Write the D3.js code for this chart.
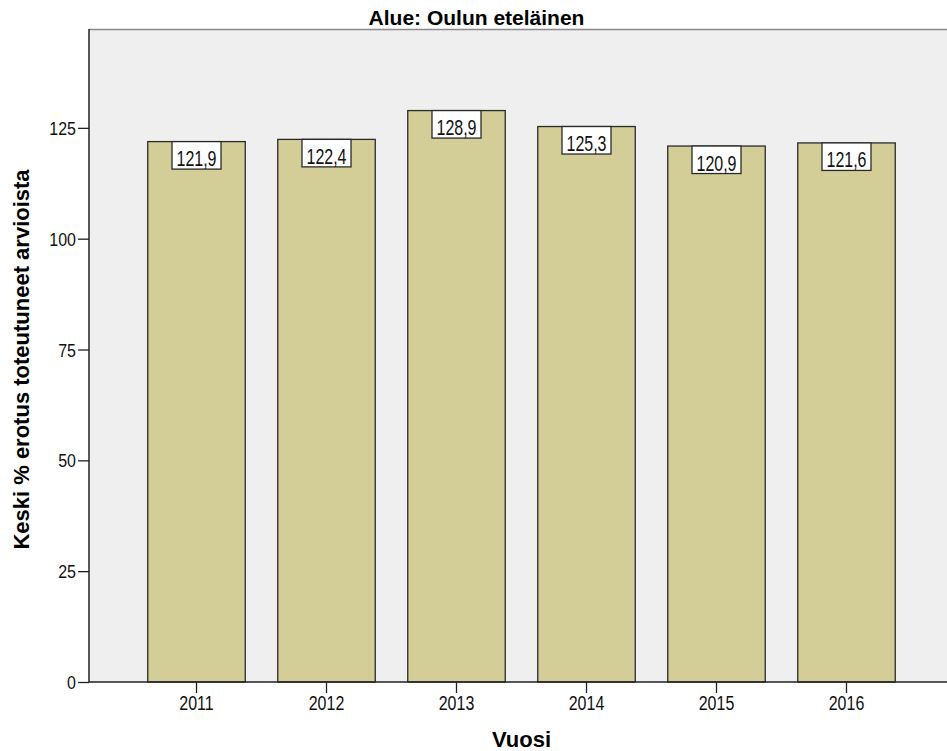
<!DOCTYPE html>
<html>
<head>
<meta charset="utf-8">
<script src="https://cdn.jsdelivr.net/npm/d3@7"></script>
<style>
  html, body { margin: 0; padding: 0; background: #fff; }
  svg { display: block; font-family: Arial, "Liberation Sans", sans-serif; }
</style>
</head>
<body>
<svg id="chart" width="947" height="751"></svg>
<script>
// Mean % difference of realised vs. estimated values, by year
const years = ["2011", "2012", "2013", "2014", "2015", "2016"];
const means = [121.9, 122.4, 128.9, 125.3, 120.9, 121.6];
const yTicks = [0, 25, 50, 75, 100, 125];

const chartTitle = "Alue: Oulun eteläinen";
const xTitle = "Vuosi";
const yTitle = "Keski % erotus toteutuneet arvioista";

const W = 947, H = 751;
const plot = { left: 89, top: 29, right: 954, bottom: 682 };

const svg = d3.select("#chart");

const x = d3.scaleBand()
  .domain(years)
  .range([plot.left, plot.right])
  .paddingInner(0.25)
  .paddingOuter(0.452);

const y = d3.scaleLinear()
  .domain([0, 147.3])
  .range([plot.bottom, plot.top]);

const fmt = v => d3.format(".1f")(v).replace(".", ",");

// plot background
svg.append("rect")
  .attr("x", plot.left).attr("y", plot.top)
  .attr("width", plot.right - plot.left)
  .attr("height", plot.bottom - plot.top)
  .attr("fill", "#efefef");

// top frame line
svg.append("line")
  .attr("x1", plot.left).attr("x2", W)
  .attr("y1", plot.top + 0.5).attr("y2", plot.top + 0.5)
  .attr("stroke", "#8a8a8a").attr("stroke-width", 1.5);

// bars
svg.append("g").selectAll("rect")
  .data(years)
  .join("rect")
  .attr("x", (d) => x(d))
  .attr("y", (d, i) => y(means[i]))
  .attr("width", x.bandwidth())
  .attr("height", (d, i) => y(0) - y(means[i]))
  .attr("fill", "#d3ce97")
  .attr("stroke", "#2a2a2a")
  .attr("stroke-width", 1.3);

// y axis
const yAxis = svg.append("g")
  .attr("transform", `translate(${plot.left},0)`)
  .call(d3.axisLeft(y).tickValues(yTicks).tickSize(11).tickSizeOuter(0).tickPadding(2));
yAxis.select(".domain").attr("stroke", "#222").attr("stroke-width", 1.5)
  .attr("d", `M0,${plot.top}V${plot.bottom}`);
yAxis.selectAll(".tick line").attr("stroke", "#222").attr("stroke-width", 1.3);
yAxis.selectAll(".tick text")
  .attr("font-size", 16).attr("fill", "#111").attr("dy", null)
  .attr("font-family", "Arial, 'Liberation Sans', sans-serif")
  .attr("transform", "translate(0,6.5) scale(1,1.18)");

// x axis
const xAxis = svg.append("g")
  .attr("transform", `translate(0,${plot.bottom})`)
  .call(d3.axisBottom(x).tickSize(11).tickSizeOuter(0).tickPadding(6));
xAxis.select(".domain").attr("stroke", "#222").attr("stroke-width", 1.5)
  .attr("d", `M${plot.left},0H${W}`);
xAxis.selectAll(".tick line").attr("stroke", "#222").attr("stroke-width", 1.3);
xAxis.selectAll(".tick text")
  .attr("font-size", 16).attr("fill", "#111").attr("y", 0).attr("dy", null)
  .attr("font-family", "Arial, 'Liberation Sans', sans-serif")
  .attr("transform", "translate(0,28) scale(1,1.22)");

// value labels
const lab = svg.append("g").selectAll("g")
  .data(years)
  .join("g")
  .attr("transform", (d, i) => `translate(${x(d) + x.bandwidth() / 2},${y(means[i])})`);
lab.append("rect")
  .attr("x", -24.5).attr("y", 0)
  .attr("width", 49).attr("height", 27.5)
  .attr("fill", "#fff").attr("stroke", "#2a2a2a").attr("stroke-width", 1.3);
lab.append("text")
  .attr("text-anchor", "middle")
  .attr("font-size", 16)
  .attr("fill", "#111")
  .attr("transform", "translate(0,24.5) scale(1,1.4)")
  .text((d, i) => fmt(means[i]));

// titles
svg.append("text")
  .attr("x", W / 2 + 3).attr("y", 25)
  .attr("text-anchor", "middle")
  .attr("font-size", 21).attr("font-weight", "bold")
  .text(chartTitle);

svg.append("text")
  .attr("x", (plot.left + plot.right) / 2).attr("y", 747)
  .attr("text-anchor", "middle")
  .attr("font-size", 22).attr("font-weight", "bold")
  .text(xTitle);

svg.append("text")
  .attr("transform", `translate(29,${(plot.top + plot.bottom) / 2 + 4}) rotate(-90)`)
  .attr("text-anchor", "middle")
  .attr("font-size", 22).attr("font-weight", "bold")
  .text(yTitle);
</script>
</body>
</html>
